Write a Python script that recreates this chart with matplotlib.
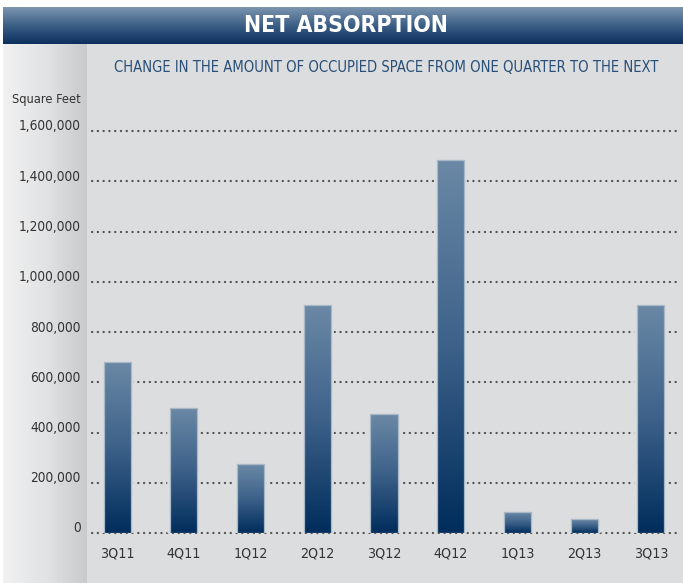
import matplotlib
matplotlib.use("Agg")
import matplotlib.pyplot as plt
import matplotlib.transforms as mtransforms
import numpy as np
from matplotlib.colors import LinearSegmentedColormap
from matplotlib.patches import Rectangle

# Data
quarters = ["3Q11", "4Q11", "1Q12", "2Q12", "3Q12", "4Q12", "1Q13", "2Q13", "3Q13"]
net_absorption = [681000, 498000, 273000, 906000, 472000, 1485000, 82000, 55000, 909000]
y_ticks = [0, 200000, 400000, 600000, 800000, 1000000, 1200000, 1400000, 1600000]

title = "NET ABSORPTION"
subtitle = "CHANGE IN THE AMOUNT OF OCCUPIED SPACE FROM ONE QUARTER TO THE NEXT"
y_label = "Square Feet"

# condensed face comes closest to the narrow sans of the original
plt.rcParams["font.family"] = ["DejaVu Sans"]
plt.rcParams["font.stretch"] = "condensed"

PANEL = "#dcdddf"
TEXT = "#333333"

W, H = 683, 583
fig = plt.figure(figsize=(W / 100, H / 100), dpi=100)
fig.patch.set_facecolor("white")

# background layer in pixel coordinates
bg = fig.add_axes([0, 0, 1, 1])
bg.axis("off")

bg.add_patch(Rectangle((3, 44), W - 3, H - 44, facecolor=PANEL, edgecolor="none"))

# left strip, horizontal gradient
strip_cmap = LinearSegmentedColormap.from_list("strip", ["#f1f1f2", "#e2e3e4", "#c9cacc"])
bg.imshow(np.linspace(0, 1, 256).reshape(1, -1), cmap=strip_cmap, aspect="auto",
          extent=[3, 87, H, 44], zorder=1)

# title banner, vertical gradient
banner_cmap = LinearSegmentedColormap.from_list("banner", ["#7d96b0", "#3c5f86", "#0a2f5c"])
bg.imshow(np.linspace(0, 1, 256).reshape(-1, 1), cmap=banner_cmap, aspect="auto",
          extent=[3, W, 44, 7], zorder=1)
bg.set_xlim(0, W)
bg.set_ylim(H, 0)

bg.text(346, 26, title, color="white", fontsize=16.5, fontweight="bold",
        ha="center", va="center", zorder=3)
bg.text(386, 68, subtitle, color="#2b5078", fontsize=10.6,
        ha="center", va="center", zorder=3)
bg.text(81, 99, y_label, color=TEXT, fontsize=9.2,
        ha="right", va="center", zorder=3)

# main chart axes
ax = fig.add_axes([92 / W, 1 - 533 / H, (677 - 92) / W, (533 - 131) / H])
ax.patch.set_alpha(0)

x = np.arange(len(quarters))
bar_width = 0.405

# a panel-coloured halo keeps the dotted lines off the bars
ax.bar(x, net_absorption, width=bar_width, facecolor="none",
       edgecolor=PANEL, linewidth=4, zorder=1.5)
bars = ax.bar(x, net_absorption, width=bar_width, facecolor="none",
              edgecolor="#a9b8c6", linewidth=0.9, zorder=3)

bar_cmap = LinearSegmentedColormap.from_list("bars", ["#6b89a6", "#3d6189", "#002d5c"])
grad = np.linspace(0, 1, 256).reshape(-1, 1)
for b in bars:
    x0, y0 = b.get_x(), b.get_y()
    im = ax.imshow(grad, cmap=bar_cmap, aspect="auto", zorder=2, origin="upper",
                   extent=[x0, x0 + b.get_width(), y0, y0 + b.get_height()])
    im.set_clip_path(b)

ax.set_xlim(-0.375, 8.39)
ax.set_ylim(0, 1600000)
ax.set_xticks(x)
ax.set_xticklabels(quarters)
ax.set_yticks(y_ticks)
ax.set_yticklabels([f"{v:,}" for v in y_ticks])

for v in y_ticks:
    ax.axhline(v, color="#505050", linewidth=1.6, linestyle=(0, (0.1, 2.5)),
               dash_capstyle="round", zorder=1, clip_on=False)

for s in ax.spines.values():
    s.set_visible(False)
ax.tick_params(axis="both", length=0, colors=TEXT)
ax.tick_params(axis="y", pad=8, labelsize=9.8)
ax.tick_params(axis="x", pad=10, labelsize=10.2)

offset = mtransforms.ScaledTranslation(0, 6 / 100, fig.dpi_scale_trans)
for lbl in ax.get_yticklabels():
    lbl.set_transform(lbl.get_transform() + offset)

fig.savefig("out.png", dpi=100, facecolor=fig.get_facecolor())
